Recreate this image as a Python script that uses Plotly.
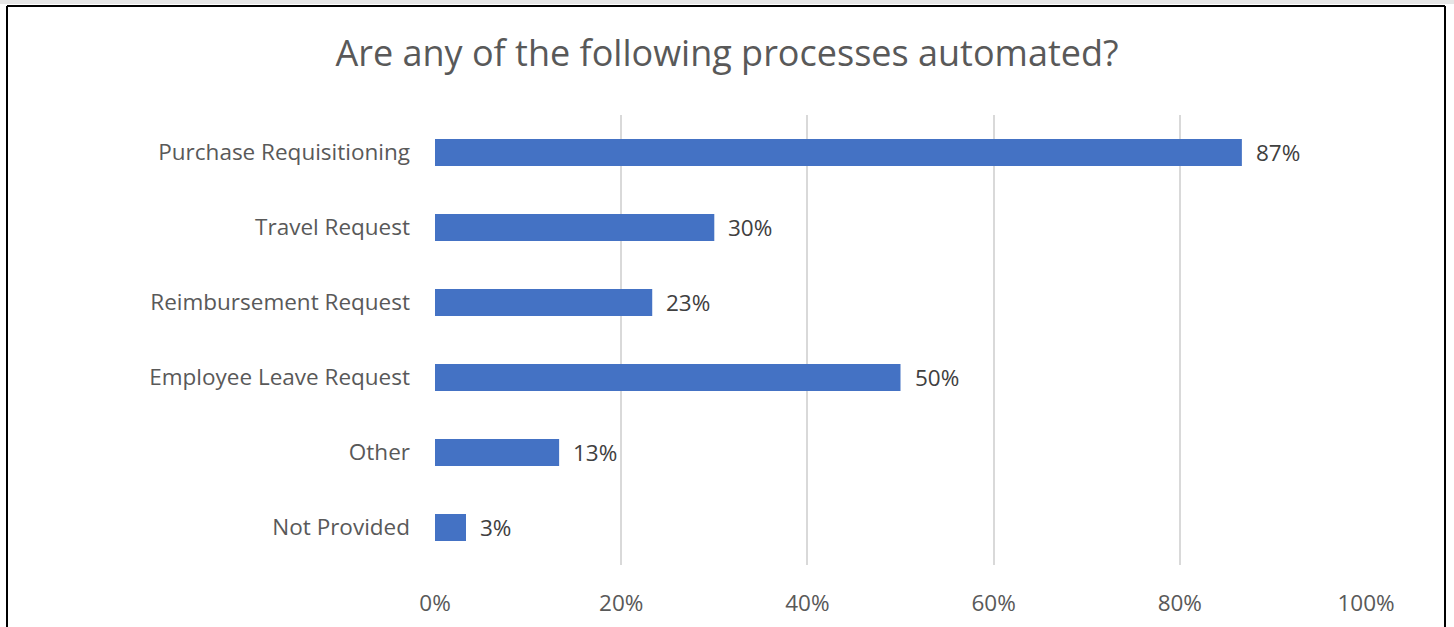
import plotly.graph_objects as go

# Survey responses (share of 30 respondents)
categories = [
    "Purchase Requisitioning",
    "Travel Request",
    "Reimbursement Request",
    "Employee Leave Request",
    "Other",
    "Not Provided",
]
shares = [26 / 30, 9 / 30, 7 / 30, 15 / 30, 4 / 30, 1 / 30]
x_ticks = [0, 0.2, 0.4, 0.6, 0.8, 1.0]
x_tick_labels = ["0%", "20%", "40%", "60%", "80%", "100%"]

FONT = "'Open Sans', sans-serif"
GREY = "#595959"

fig = go.Figure(
    go.Bar(
        y=categories,
        x=shares,
        orientation="h",
        marker=dict(color="#4472C4", line=dict(width=0)),
        hoverinfo="skip",
    )
)

# value labels just past the end of each bar
for cat, val in zip(categories, shares):
    fig.add_annotation(
        x=val, y=cat, xref="x", yref="y",
        text=f"{val:.0%}",
        showarrow=False,
        xanchor="left", yanchor="middle",
        xshift=12,
        font=dict(family=FONT, size=22.5, color="#404040"),
    )

W, H = 1454, 627
L, R, T, B = 435, 88, 115, 62
pw, ph = W - L - R, H - T - B


def px_x(v):
    return (v - L) / pw


def px_y(v):
    return (H - B - v) / ph


fig.update_layout(
    width=W,
    height=H,
    margin=dict(l=L, r=R, t=T, b=B, autoexpand=False),
    paper_bgcolor="white",
    plot_bgcolor="white",
    bargap=0.64,
    showlegend=False,
    title=dict(
        text="Are any of the following processes automated?",
        x=0.5,
        xanchor="center",
        y=1 - 53 / H,
        yanchor="middle",
        font=dict(family=FONT, size=36, color=GREY),
    ),
    xaxis=dict(
        range=[0, 1],
        tickvals=x_ticks,
        ticktext=x_tick_labels,
        showgrid=True,
        gridcolor="#D9D9D9",
        gridwidth=1.5,
        zeroline=False,
        showline=False,
        ticks="",
        ticklabelstandoff=22,
        tickfont=dict(family=FONT, size=22.5, color=GREY),
        automargin=False,
        fixedrange=True,
    ),
    yaxis=dict(
        categoryorder="array",
        categoryarray=categories[::-1],
        showgrid=False,
        zeroline=False,
        showline=False,
        ticks="",
        ticklabelstandoff=24,
        tickfont=dict(family=FONT, size=22.5, color=GREY),
        automargin=False,
        fixedrange=True,
    ),
    shapes=[
        # thin grey strip along the top edge
        dict(type="rect", xref="paper", yref="paper",
             x0=px_x(0), x1=px_x(W), y0=px_y(0), y1=px_y(4),
             fillcolor="#E6E6E6", line=dict(width=0), layer="below"),
        # frame around the chart (left, top, right)
        dict(type="line", xref="paper", yref="paper",
             x0=px_x(7), x1=px_x(7), y0=px_y(6), y1=px_y(H + 5),
             line=dict(color="black", width=2)),
        dict(type="line", xref="paper", yref="paper",
             x0=px_x(7), x1=px_x(1445), y0=px_y(6), y1=px_y(6),
             line=dict(color="black", width=2)),
        dict(type="line", xref="paper", yref="paper",
             x0=px_x(1445), x1=px_x(1445), y0=px_y(6), y1=px_y(H + 5),
             line=dict(color="black", width=2)),
    ],
)

fig.write_html("out.html", config=dict(displayModeBar=False))
